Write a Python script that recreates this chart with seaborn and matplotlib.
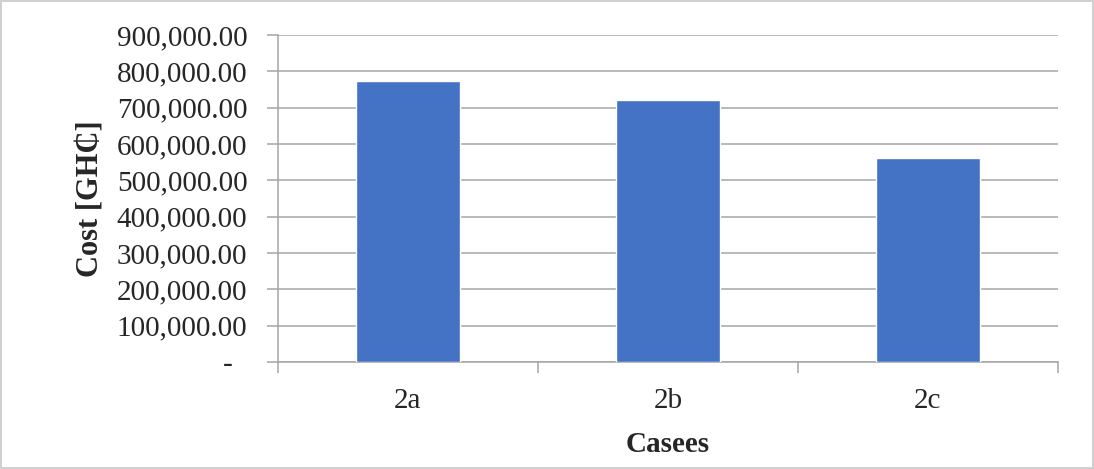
"""Bar chart: cost per case (2a, 2b, 2c)."""

import matplotlib
matplotlib.use("Agg")
import matplotlib.pyplot as plt
import pandas as pd
import seaborn as sns
from matplotlib.ticker import FuncFormatter, FixedLocator

cases = ["2a", "2b", "2c"]
costs = [774000, 721000, 562000]

sns.set_style("white")
plt.rcParams["font.family"] = ["Liberation Serif", "DejaVu Serif"]

df = pd.DataFrame({"case": cases, "cost": costs})

fig = plt.figure(figsize=(10.94, 4.69), dpi=100)
fig.patch.set_edgecolor("#d0d0d0")
fig.patch.set_linewidth(1.5)
ax = fig.add_axes([0.254, 0.228, 0.713, 0.697])

sns.barplot(data=df, x="case", y="cost", color="#4472C4", saturation=1,
            width=0.4, ax=ax, zorder=3)

ax.set_ylim(0, 900000)
ax.set_xlim(-0.5, len(cases) - 0.5)
ax.set_yticks(range(0, 900001, 100000))
ax.yaxis.set_major_formatter(
    FuncFormatter(lambda v, _: "-  " if v == 0 else f"{v:,.2f}"))
ax.grid(axis="y", color="#a6a6a6", linewidth=1.1, zorder=0)

# category boundaries as tick marks, labels at centres without marks
ax.xaxis.set_minor_locator(FixedLocator([i - 0.5 for i in range(len(cases) + 1)]))
ax.tick_params(axis="x", which="major", length=0, labelsize=21, pad=19)
ax.tick_params(axis="x", which="minor", length=8, color="#a6a6a6", width=1.1,
               direction="out", bottom=True)
ax.tick_params(axis="y", which="major", length=8, color="#a6a6a6", width=1.1,
               direction="out", left=True, labelsize=21, pad=14)

for side in ["top", "right"]:
    ax.spines[side].set_visible(False)
for side in ["left", "bottom"]:
    ax.spines[side].set_color("#a6a6a6")
    ax.spines[side].set_linewidth(1.1)

ax.set_xlabel("Casees", fontsize=21, fontweight="bold", labelpad=12)
ax.set_ylabel("Cost [GH\u20b5]", fontsize=22, fontweight="bold", labelpad=8)

fig.savefig("out.png", dpi=100)
plt.close(fig)
